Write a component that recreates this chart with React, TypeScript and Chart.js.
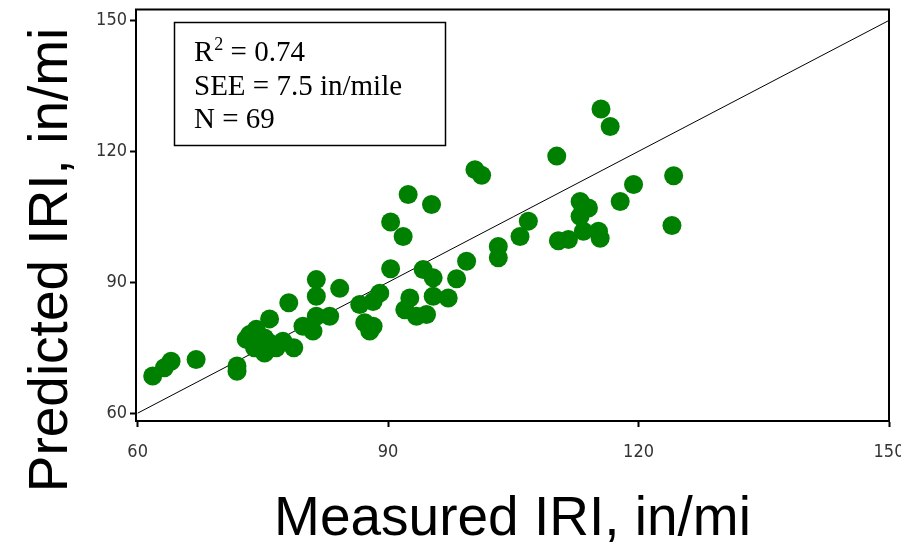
import React, { useEffect, useRef } from "react";
import { Chart, registerables } from "chart.js";

Chart.register(...registerables);

// Measured vs predicted IRI (in/mi)
const measuredIRI = [
  61.8, 63.2, 64.0, 67.0, 71.9, 71.9, 73.0, 73.4, 74.2, 74.0,
  75.2, 75.2, 76.2, 76.6, 75.8, 78.1, 78.7, 79.8, 81.0, 81.4,
  83.0, 81.4, 81.4, 84.2, 86.6, 88.2, 89.0, 87.2, 88.2, 87.8,
  90.3, 90.3, 91.8, 92.4, 95.2, 94.2, 95.4, 92.6, 92.0, 93.4,
  94.6, 95.4, 97.2, 98.2, 99.4, 100.4, 101.2, 103.2, 103.2, 105.8,
  106.8, 110.2, 110.4, 111.6, 113.0, 114.0, 113.0, 113.4, 115.2, 115.4,
  117.8, 119.4, 124.2, 124.0, 115.5, 116.6, 77.4, 74.4, 75.6,
];
const predictedIRI = [
  68.5, 70.4, 71.9, 72.3, 70.8, 69.6, 76.9, 78.0, 79.2, 75.0,
  77.2, 73.8, 75.7, 75.0, 81.6, 85.3, 75.0, 79.9, 78.8, 82.2,
  82.2, 90.6, 86.8, 88.6, 84.9, 85.6, 87.5, 80.7, 79.9, 78.8,
  93.1, 103.8, 100.5, 110.1, 107.8, 92.9, 91.0, 86.4, 83.7, 82.2,
  82.6, 86.8, 86.4, 90.8, 94.8, 115.8, 114.5, 98.2, 95.6, 100.5,
  104.0, 118.9, 99.5, 99.8, 108.5, 107.0, 105.1, 101.7, 101.7, 100.1,
  108.5, 112.4, 114.4, 103.0, 129.7, 125.7, 76.5, 76.3, 76.3,
];
const lineOfEquality = [60, 150];
const tickValues = [60, 90, 120, 150];
const statLines = ["R", "2", " = 0.74", "SEE = 7.5 in/mile", "N = 69"];
const xTitle = "Measured IRI, in/mi";
const yTitle = "Predicted IRI, in/mi";

const overlayPlugin = {
  id: "overlay",
  afterDraw(chart: any) {
    const { ctx, chartArea } = chart;
    ctx.save();
    // frame
    ctx.strokeStyle = "#000";
    ctx.lineWidth = 2;
    ctx.strokeRect(chartArea.left, chartArea.top, chartArea.right - chartArea.left, chartArea.bottom - chartArea.top);
    // stats box
    ctx.lineWidth = 1.5;
    ctx.strokeRect(174.5, 22.5, 271, 123);
    ctx.fillStyle = "#000";
    ctx.textBaseline = "alphabetic";
    ctx.textAlign = "left";
    const serif = '"Liberation Serif", "Times New Roman", serif';
    ctx.font = `29px ${serif}`;
    const x0 = 194;
    ctx.fillText(statLines[0], x0, 61);
    const wR = ctx.measureText(statLines[0]).width;
    ctx.font = `18px ${serif}`;
    ctx.fillText(statLines[1], x0 + wR + 1, 50);
    const w2 = ctx.measureText(statLines[1]).width;
    ctx.font = `29px ${serif}`;
    ctx.fillText(statLines[2], x0 + wR + w2 + 1, 61);
    ctx.fillText(statLines[3], x0, 95);
    ctx.fillText(statLines[4], x0, 128);
    // axis titles
    const sans = '"Liberation Sans", Arial, sans-serif';
    ctx.font = `55px ${sans}`;
    ctx.textAlign = "center";
    ctx.fillText(xTitle, (chartArea.left + chartArea.right) / 2, 535);
    ctx.translate(67, 260);
    ctx.rotate(-Math.PI / 2);
    ctx.fillText(yTitle, 0, 0);
    ctx.restore();
  },
};

export default function App() {
  const ref = useRef<HTMLCanvasElement>(null);
  useEffect(() => {
    if (!ref.current) return;
    const tickFont = { family: '"Liberation Sans Narrow", "DejaVu Sans Condensed", Arial, sans-serif', size: 18 };
    const chart = new Chart(ref.current, {
      type: "scatter",
      data: {
        datasets: [
          {
            label: "line",
            data: lineOfEquality.map((v) => ({ x: v, y: v })),
            showLine: true,
            borderColor: "#000",
            borderWidth: 1,
            pointRadius: 0,
            order: 2,
          } as any,
          {
            label: "IRI",
            data: measuredIRI.map((x, i) => ({ x, y: predictedIRI[i] })),
            backgroundColor: "#008000",
            borderWidth: 0,
            pointRadius: 9.5,
            order: 1,
          },
        ],
      },
      options: {
        responsive: false,
        animation: false,
        layout: { padding: { left: 0, top: 8, right: 12, bottom: 0 } },
        plugins: { legend: { display: false }, tooltip: { enabled: false } },
        scales: {
          x: {
            type: "linear",
            min: 59.8,
            max: 150,
            afterBuildTicks: (s: any) => {
              s.ticks = tickValues.map((v) => ({ value: v }));
            },
            afterFit: (s: any) => {
              s.height = 121;
              s.paddingLeft = 0;
              s.paddingRight = 0;
            },
            grid: { drawOnChartArea: false, drawTicks: true, tickLength: 6, color: "#000", tickWidth: 2 },
            border: { display: true, color: "#000", width: 2 },
            ticks: { color: "#333", font: tickFont, padding: 15, maxRotation: 0 },
          },
          y: {
            type: "linear",
            min: 58.2,
            max: 152.5,
            afterBuildTicks: (s: any) => {
              s.ticks = tickValues.map((v) => ({ value: v }));
            },
            afterFit: (s: any) => {
              s.width = 136;
              s.paddingTop = 0;
              s.paddingBottom = 0;
            },
            grid: { drawOnChartArea: false, drawTicks: true, tickLength: 6, color: "#000", tickWidth: 2 },
            border: { display: true, color: "#000", width: 2 },
            ticks: { color: "#333", font: tickFont, padding: 3 },
          },
        },
      },
      plugins: [overlayPlugin],
    });
    return () => chart.destroy();
  }, []);
  return (
    <div style={{ position: "fixed", left: 0, top: 0, width: 901, height: 542, background: "#fff" }}>
      <canvas ref={ref} width={901} height={542} />
    </div>
  );
}
